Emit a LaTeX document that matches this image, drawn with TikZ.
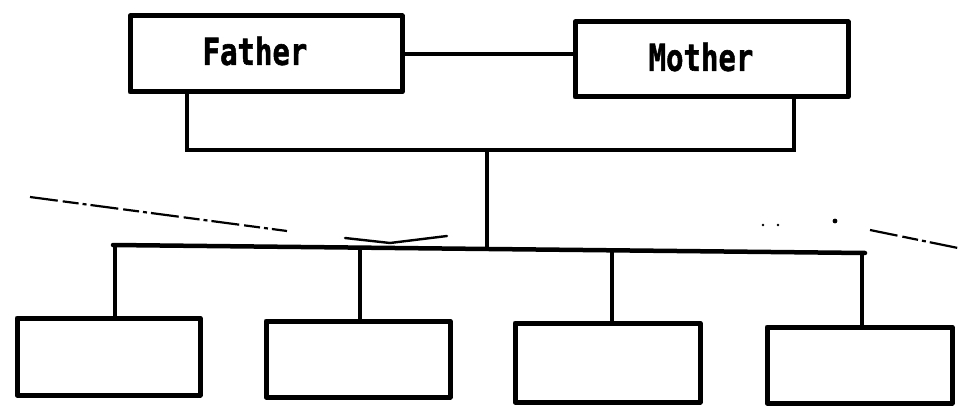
\documentclass[tikz,border=0pt]{standalone}
\usepackage{fontspec}
\usepackage{graphicx}
\newfontfamily\labelfont[FakeBold=1.6]{DejaVu Sans Mono}
\begin{document}
\begin{tikzpicture}[x=1pt,y=-1pt,
  parentbox/.style={draw=black,line width=5pt,rectangle,inner sep=0pt,line join=round},
  childbox/.style={draw=black,line width=5pt,rectangle,inner sep=0pt,line join=round},
  boxtext/.style={inner sep=0pt,font=\labelfont\bfseries\fontsize{29}{29}\selectfont},
  link/.style={draw=black,line width=4.5pt},
  stray/.style={draw=black,line width=2.2pt,dash pattern=on 28pt off 5pt on 16pt off 4pt on 4pt off 4pt}
]
\useasboundingbox (0,0) rectangle (958,417);
% parents
\node[parentbox,minimum width=272pt,minimum height=76pt] (father) at (266,54) {};
\node[parentbox,minimum width=273pt,minimum height=75pt] (mother) at (711.5,59.5) {};
\node[boxtext] (fathertext) at (255,51) {\scalebox{1}[1.28]{Father}};
\node[boxtext] (mothertext) at (701,57) {\scalebox{1}[1.28]{Mother}};
% children
\node[childbox,minimum width=183pt,minimum height=77pt] (c1) at (108.5,356.5) {};
\node[childbox,minimum width=184pt,minimum height=76pt] (c2) at (358,359) {};
\node[childbox,minimum width=185pt,minimum height=79pt] (c3) at (607.5,362.5) {};
\node[childbox,minimum width=185pt,minimum height=76pt] (c4) at (859.5,365) {};
% marriage line
\draw[link] (father.east) -- (father.east -| mother.west);
% parents' joint bar
\coordinate (jl) at (187,150);
\coordinate (jr) at (794,150);
\coordinate (jm) at (487,150);
\draw[link,line join=miter] (father.south -| jl) -- (jl) -- (jr) -- (mother.south -| jr);
% children's bar
\coordinate (bl) at (113,245);
\coordinate (br) at (865,253);
\coordinate (bm) at (487,249);
\draw[link] (jm) -- (bm);
\draw[link,line cap=round] (bl) -- (br);
\coordinate (d1) at (115,245);
\coordinate (d2) at (360,247.6);
\coordinate (d3) at (612,250.3);
\coordinate (d4) at (862,253);
\draw[link] (d1) -- (c1.north -| d1);
\draw[link] (d2) -- (c2.north -| d2);
\draw[link] (d3) -- (c3.north -| d3);
\draw[link] (d4) -- (c4.north -| d4);
% stray scan marks
\coordinate (s1a) at (30,197);
\coordinate (s1b) at (287,231);
\draw[stray] (s1a) -- (s1b);
\coordinate (h1) at (345,238);
\coordinate (h2) at (390,243);
\coordinate (h3) at (447,236);
\draw[black,line width=2.4pt,line cap=round] (h1) -- (h2) -- (h3);
\coordinate (s2a) at (870,230);
\coordinate (s2b) at (958,248);
\draw[stray] (s2a) -- (s2b);
\coordinate (p1) at (763,225);
\coordinate (p2) at (778,225);
\coordinate (p3) at (835,221);
\fill[black] (p1) circle (1.3pt) (p2) circle (1.3pt) (p3) circle (2.4pt);
\end{tikzpicture}
\end{document}
